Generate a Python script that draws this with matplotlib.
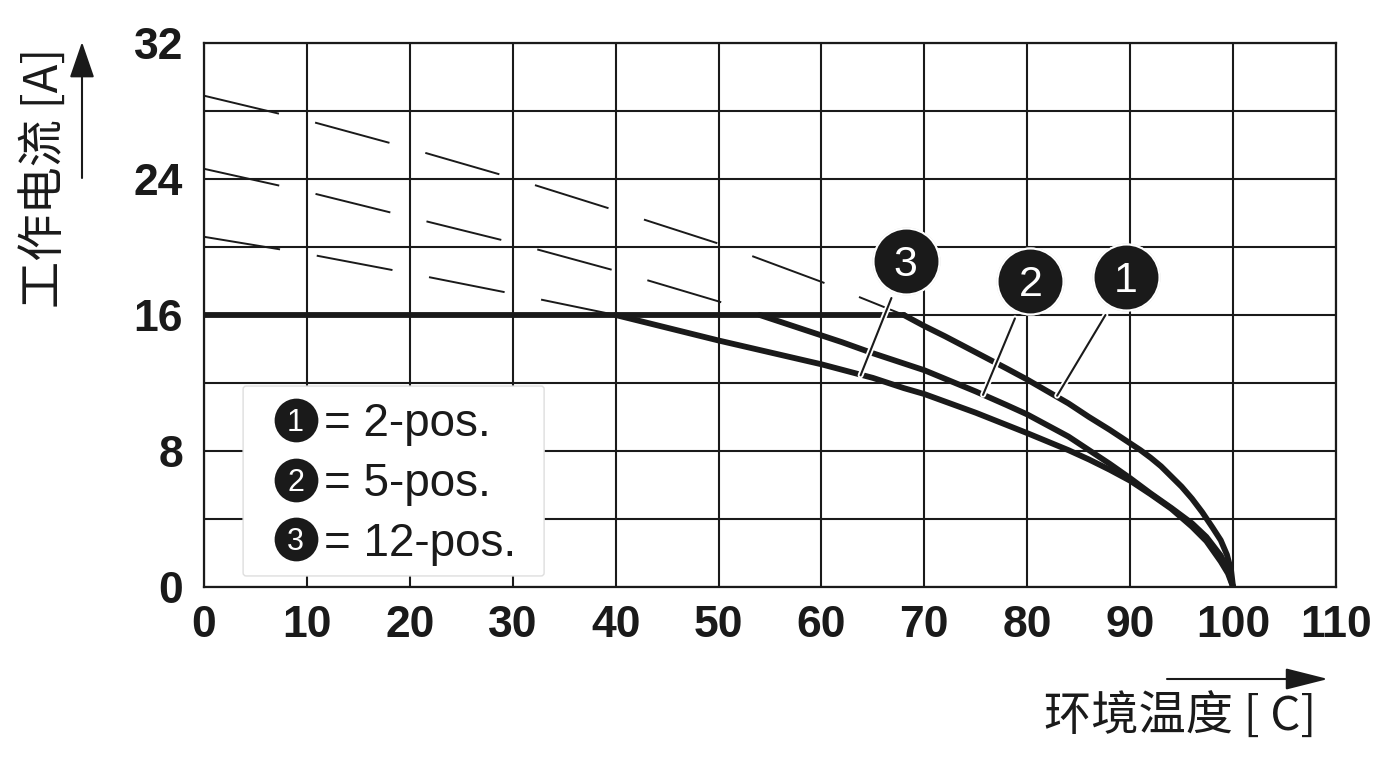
import numpy as np
import matplotlib
matplotlib.use("Agg")
import matplotlib.pyplot as plt
from matplotlib.patches import FancyBboxPatch, FancyArrowPatch
import matplotlib.patheffects as pe

plt.rcParams['lines.scale_dashes'] = False

# ---------------- data ----------------
rated_current = 16.0

temp_2pos = [0, 10, 20, 30, 40, 50, 60, 68, 70, 72, 75, 78, 80, 82, 84, 86, 88, 90, 91,
             92, 93, 94, 95, 96, 97, 98, 98.8, 99.4, 99.8, 100]
curr_2pos = [28.9, 27.45, 25.8, 24.05, 22.15, 20.2, 17.95, 16.0, 15.35, 14.75, 13.8, 12.85,
             12.2, 11.5, 10.8, 10.0, 9.25, 8.45, 8.05, 7.6, 7.1, 6.5, 5.9, 5.2, 4.4,
             3.5, 2.75, 1.9, 1.0, 0.0]

temp_5pos = [0, 10, 20, 30, 40, 50, 54, 56, 58, 60, 62, 65, 68, 70, 72, 75, 78, 80, 82, 84,
             86, 88, 90, 92, 94, 96, 97.4, 98.8, 99.5, 100]
curr_5pos = [24.6, 23.25, 21.75, 20.25, 18.6, 16.8, 16.0, 15.6, 15.2, 14.8, 14.4, 13.75,
             13.15, 12.75, 12.25, 11.5, 10.7, 10.15, 9.5, 8.85, 8.05, 7.25, 6.4, 5.5,
             4.65, 3.75, 2.95, 1.85, 1.0, 0.0]

temp_12pos = [0, 10, 20, 30, 40, 45, 50, 55, 60, 65, 68, 70, 75, 80, 84, 86, 88, 90, 92, 94,
              96, 97.4, 98.8, 99.5, 100]
curr_12pos = [20.6, 19.6, 18.45, 17.25, 16.0, 15.25, 14.5, 13.8, 13.1, 12.3, 11.7, 11.35,
              10.25, 9.05, 8.05, 7.5, 6.9, 6.25, 5.45, 4.6, 3.55, 2.7, 1.5, 0.8, 0.0]

series_ids = ['1', '2', '3']
series_names = ['2-pos.', '5-pos.', '12-pos.']
series_temps = [temp_2pos, temp_5pos, temp_12pos]
series_currs = [curr_2pos, curr_5pos, curr_12pos]

x_ticks = [0, 10, 20, 30, 40, 50, 60, 70, 80, 90, 100, 110]
y_ticks = [0, 4, 8, 12, 16, 20, 24, 28, 32]
y_tick_labels = ['0', '', '8', '', '16', '', '24', '', '32']

x_label = '环境温度 [ C]'
y_label = '工作电流 [A]'

# ---------------- styling ----------------
INK = '#1a1a1a'
W, H = 1400, 765
fig = plt.figure(figsize=(W / 100, H / 100), dpi=100)
ax = fig.add_axes([204 / W, 1 - 587 / H, (1336 - 204) / W, (587 - 43) / H])
ax.set_xlim(0, 110)
ax.set_ylim(0, 32)

ax.set_xticks(x_ticks)
ax.set_xticklabels([str(t) for t in x_ticks])
ax.set_yticks(y_ticks)
ax.set_yticklabels(y_tick_labels)
ax.tick_params(length=0, labelsize=32)
ax.tick_params(axis='x', pad=13)
ax.tick_params(axis='y', pad=15)
for lab in ax.get_xticklabels() + ax.get_yticklabels():
    lab.set_fontfamily('Liberation Sans')
    lab.set_fontweight('bold')
    lab.set_color(INK)

ax.set_axisbelow(True)
ax.grid(True, color=INK, linewidth=1.5)
for sp in ax.spines.values():
    sp.set_color(INK)
    sp.set_linewidth(1.6)

# curves
cross_temps = []
for T, I in zip(series_temps, series_currs):
    T = np.asarray(T, float)
    I = np.asarray(I, float)
    above = I >= rated_current
    below = I <= rated_current
    ax.plot(T[above], I[above], color=INK, lw=1.4,
            linestyle=(0, (55.5, 26.8)), zorder=2, dash_capstyle='butt')
    ax.plot(T[below], I[below], color=INK, lw=4.2, zorder=3,
            solid_capstyle='round', solid_joinstyle='round')
    cross_temps.append(T[np.isclose(I, rated_current)].max())

ax.plot([0, max(cross_temps)], [rated_current, rated_current], color=INK,
        lw=4.2, zorder=3, solid_capstyle='round')

# numbered callouts (positions in data coords)
callouts = {
    '3': ((68.2, 19.2), (66.8, 17.0), (63.8, 12.45)),
    '2': ((80.3, 18.0), (78.8, 15.8), (75.7, 11.3)),
    '1': ((89.6, 18.25), (87.6, 16.0), (82.9, 11.25)),
}
for num, (c, p0, p1) in callouts.items():
    ax.plot([p0[0], p1[0]], [p0[1], p1[1]], color=INK, lw=1.5, zorder=5,
            solid_capstyle='round',
            path_effects=[pe.withStroke(linewidth=4.2, foreground='white')])
    ax.plot([c[0]], [c[1]], marker='o', markersize=49, markerfacecolor='#dddddd',
            markeredgecolor='none', zorder=6)
    ax.plot([c[0]], [c[1]], marker='o', markersize=47.5, markerfacecolor=INK,
            markeredgecolor='white', markeredgewidth=1.5, zorder=6)
    ax.annotate(num, xy=c, xytext=(0, -0.358 * 31), textcoords='offset points',
                ha='center', va='baseline', fontsize=31, color='white',
                family='Liberation Sans', zorder=7)

# legend box
box_x0, box_x1 = 3.8, 33.05
box_y0, box_y1 = 0.65, 11.82
legend_box = FancyBboxPatch((box_x0, box_y0), box_x1 - box_x0, box_y1 - box_y0,
                            boxstyle='round,pad=0,rounding_size=0.3',
                            facecolor='white', edgecolor='#dedede', lw=1.0,
                            zorder=4, mutation_aspect=0.6)
ax.add_patch(legend_box)
legend_rows_y = [9.82, 6.29, 2.8]
for num, name, yy in zip(series_ids, series_names, legend_rows_y):
    ax.plot([8.9], [yy], marker='o', markersize=31.5, markerfacecolor=INK,
            markeredgecolor='none', zorder=6)
    ax.annotate(num, xy=(8.9, yy), xytext=(0, -0.358 * 22), textcoords='offset points',
                ha='center', va='baseline', fontsize=22, color='white',
                family='Liberation Sans', zorder=7)
    ax.annotate('= ' + name, xy=(11.7, yy), xytext=(0, -0.358 * 33),
                textcoords='offset points', ha='left', va='baseline',
                fontsize=33, color=INK, family='Liberation Sans', zorder=7)

# axis titles with arrows
cjk = ['Noto Sans CJK SC', 'DejaVu Sans']
fig.text(45 / W, 1 - 178 / H, y_label, rotation=90, ha='center', va='center',
         fontsize=34, color=INK, family=cjk, fontweight='light')
fig.text((1043 + 1317) / 2 / W, 1 - 718 / H, x_label, ha='center', va='center',
         fontsize=34, color=INK, family=cjk, fontweight='light')

arr_y = FancyArrowPatch((82 / W, 1 - 178 / H), (82 / W, 1 - 42 / H),
                        transform=fig.transFigure, arrowstyle='-|>,head_length=1.6,head_width=0.55',
                        mutation_scale=14, color=INK, lw=1.5, shrinkA=0, shrinkB=0)
arr_x = FancyArrowPatch((1167 / W, 1 - 679 / H), (1328 / W, 1 - 679 / H),
                        transform=fig.transFigure, arrowstyle='-|>,head_length=1.9,head_width=0.48',
                        mutation_scale=14, color=INK, lw=1.5, shrinkA=0, shrinkB=0)
fig.patches.extend([arr_y, arr_x])

fig.savefig('out.png', dpi=100, facecolor='white')
